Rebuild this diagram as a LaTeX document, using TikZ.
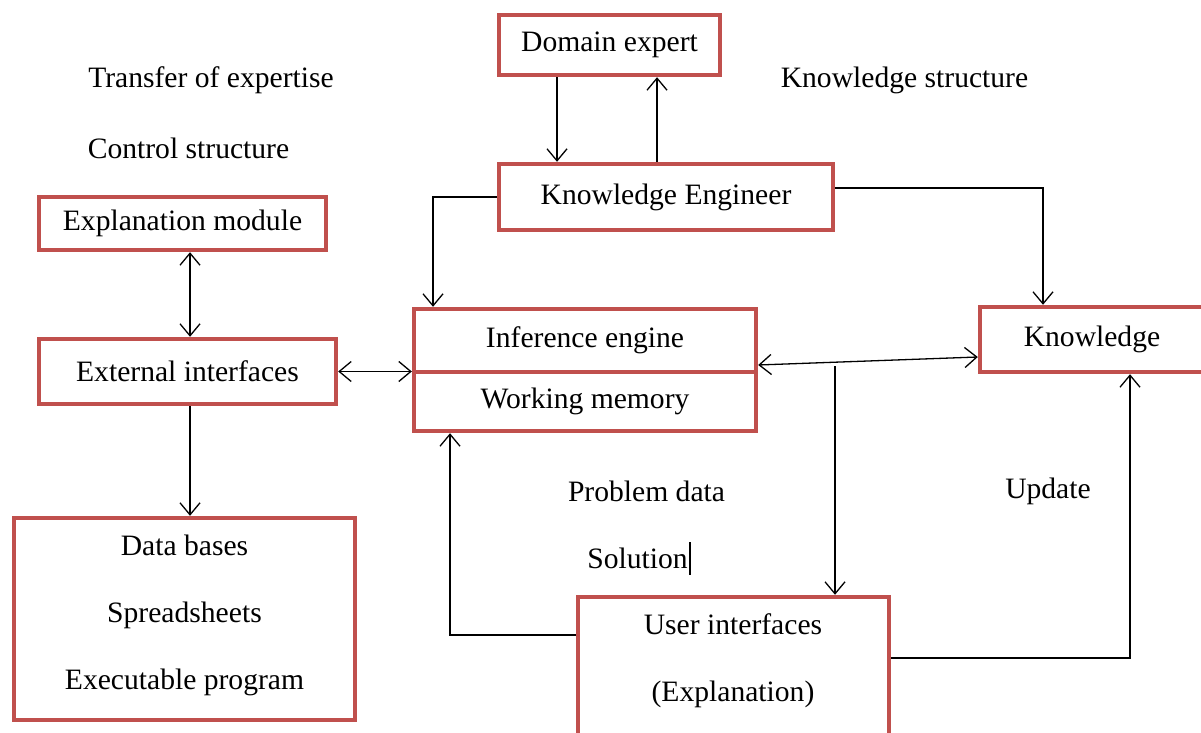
\documentclass[tikz,border=0pt]{standalone}
\usepackage{fontspec}
\setmainfont{LiberationSerif}[Extension=.ttf, UprightFont=*-Regular, BoldFont=*-Bold, ItalicFont=*-Italic]
\usetikzlibrary{arrows.meta}
\definecolor{boxred}{HTML}{C0504D}
\begin{document}
\begin{tikzpicture}[x=0.5pt,y=-0.5pt,
  box/.style={draw=boxred, line width=2.2pt, inner sep=0pt, font=\fontsize{14.8}{17}\selectfont},
  lbl/.style={inner sep=0pt, font=\fontsize{14.8}{17}\selectfont},
  conn/.style={line width=0.65pt, black},
  arr/.style={conn, -{Straight Barb[length=6pt,width=10pt]}},
  darr/.style={conn, {Straight Barb[length=6pt,width=10pt]}-{Straight Barb[length=6pt,width=10pt]}},
]
\useasboundingbox (0,0) rectangle (1201,733);
% boxes
\node[box, minimum width=110.5pt, minimum height=30pt] (dom) at (609.5,45) {Domain expert};
\node[box, minimum width=167pt, minimum height=33pt] (ke) at (666,197) {Knowledge Engineer};
\node[box, minimum width=143.5pt, minimum height=26.5pt] (expl) at (182.5,223.5) {Explanation module};
\node[box, minimum width=148.5pt, minimum height=32.5pt] (ext) at (187.5,371.5) {External interfaces};
\node[box, minimum width=171pt, minimum height=31.5pt] (ie) at (585,340.5) {Inference engine};
\node[box, minimum width=171pt, minimum height=29.5pt] (wm) at (585,401.5) {Working memory};
\node[box, minimum width=112pt, minimum height=32.5pt] (kn) at (1092,339.5) {Knowledge};
\node[box, minimum width=170.5pt, minimum height=101pt] (db) at (184.5,619) {};
\node[lbl, align=center, font=\fontsize{14.8}{33.5}\selectfont] (dbt) at (184.5,615) {Data bases\\Spreadsheets\\Executable program};
\node[box, minimum width=155.5pt, minimum height=71.5pt] (ui) at (733.5,668.5) {};
\node[lbl, align=center, font=\fontsize{14.8}{33.5}\selectfont] (uit) at (733,660.5) {User interfaces\\(Explanation)};
% free labels
\node[lbl] (t1) at (211,80) {Transfer of expertise};
\node[lbl] (t2) at (188.5,148) {Control structure};
\node[lbl] (t3) at (904.5,80) {Knowledge structure};
\node[lbl] (t4) at (646.5,491) {Problem data};
\node[lbl] (t5) at (637.5,558) {Solution};
\node[inner sep=0pt] (cur) at (690,558) {\rule{1.3pt}{16.5pt}};
\node[lbl] (t6) at (1048,491) {Update};
% helper coordinates
\coordinate (x557) at (557,0);
\coordinate (x657) at (657,0);
\coordinate (x433) at (433,0);
\coordinate (x1043) at (1043,0);
\coordinate (x190) at (190,0);
\coordinate (x835) at (835,0);
\coordinate (x450) at (450,0);
\coordinate (x1130) at (1130,0);
\coordinate (y188) at (0,188);
\coordinate (y365) at (0,365);
\coordinate (y357) at (0,357);
\coordinate (y366) at (0,366);
\coordinate (y635) at (0,635);
\coordinate (y658) at (0,658);
% connectors
\draw[arr] (x557 |- dom.south) -- (x557 |- ke.north);
\draw[arr] (x657 |- ke.north) -- (x657 |- dom.south);
\draw[arr] (ke.west) -| (x433 |- ie.north);
\draw[arr] (ke.east |- y188) -| (x1043 |- kn.north);
\draw[darr] (x190 |- expl.south) -- (x190 |- ext.north);
\draw[darr] (ext.east) -- (ext.east -| ie.west);
\draw[darr] (ie.east |- y365) -- (kn.west |- y357);
\draw[arr] (x835 |- y366) -- (x835 |- ui.north);
\draw[arr] (x190 |- ext.south) -- (x190 |- db.north);
\draw[arr] (ui.west |- y635) -| (x450 |- wm.south);
\draw[arr] (ui.east |- y658) -| (x1130 |- kn.south);
\end{tikzpicture}
\end{document}
